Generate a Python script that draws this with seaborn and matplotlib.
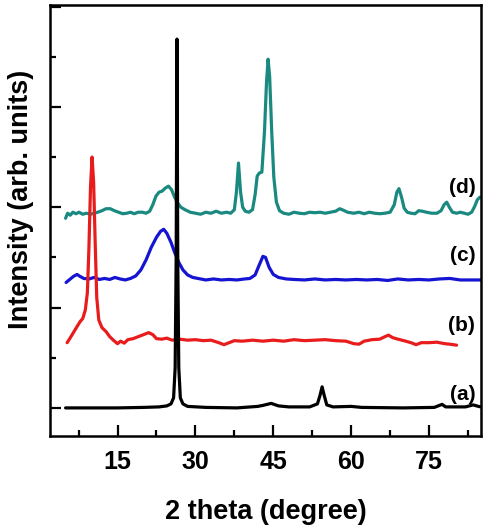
import numpy as np
import pandas as pd
import matplotlib
matplotlib.use("Agg")
import matplotlib.pyplot as plt
from matplotlib.ticker import MultipleLocator, FixedLocator
import seaborn as sns

# ---- data (2theta in degrees, offset intensity in arb. units) ----
a_x = [5.0, 10, 15, 20, 23, 24.5, 25.3, 25.8, 26.1, 26.3, 26.45, 26.6, 26.8, 27.1, 27.6, 28.5, 32, 38,
       42, 43, 44.6, 46, 48, 52, 53.5, 54.0, 54.4, 54.8, 55.3, 56.5, 60, 62, 70, 76, 77.5, 78.2, 82, 83.5, 84.5, 85]
a_y = [0.0, 0.0, 0.0, 0.01, 0.02, 0.04, 0.08, 0.2, 0.8, 3.0, 7.35, 3.0, 0.8, 0.2, 0.08, 0.03, 0.01, 0.0,
       0.03, 0.05, 0.09, 0.04, 0.02, 0.02, 0.08, 0.25, 0.42, 0.25, 0.06, 0.02, 0.03, 0.01, 0.0, 0.01, 0.07, 0.02, 0.02, 0.06, 0.03, 0.02]

b_x = [5.3, 5.8, 6.5, 7.2, 7.8, 8.3, 8.8, 9.2, 9.5, 9.8, 10.1, 10.4, 10.7, 11.0, 11.4, 12.0, 12.8, 13.5, 14.2, 15.0,
       15.6, 16.3, 17, 18, 19, 20, 21, 21.8, 22.5, 23.5, 24.5, 25.5, 27, 28.5, 30, 31.5, 33, 34.5, 35.5, 36.5,
       37.5, 39, 41, 43, 45, 47, 49, 51, 53, 55, 57, 59, 60.5, 61.5, 62.5, 64, 65.5, 66.5, 67.2, 68, 69, 70.5,
       71.5, 72.5, 73.5, 75, 76.5, 78, 79, 80.3]
b_y = [1.30, 1.38, 1.5, 1.62, 1.72, 1.78, 1.95, 2.3, 3.2, 4.4, 5.0, 4.5, 3.3, 2.2, 1.75, 1.6, 1.52, 1.42, 1.35, 1.28,
       1.33, 1.29, 1.36, 1.38, 1.42, 1.46, 1.5, 1.46, 1.38, 1.37, 1.39, 1.35, 1.37, 1.35, 1.36, 1.34, 1.35, 1.3, 1.26, 1.3,
       1.34, 1.33, 1.35, 1.33, 1.35, 1.33, 1.36, 1.34, 1.35, 1.36, 1.34, 1.33, 1.28, 1.27, 1.33, 1.36, 1.37, 1.42, 1.45, 1.4, 1.37, 1.33,
       1.3, 1.26, 1.3, 1.3, 1.31, 1.28, 1.27, 1.25]

c_x = [5.1, 5.8, 6.5, 7.2, 7.8, 8.5, 9.5, 10.5, 11.5, 12.5, 13.5, 14.5, 15.5, 16.5, 17.5, 18.5, 19.5, 20.5, 21.5, 22.5,
       23.3, 23.9, 24.5, 25.3, 26, 26.8, 27.6, 28.5, 29.5, 30.5, 32, 33.5, 35, 36.5, 38, 39.5, 40.5, 41.5, 42.3, 43.0,
       43.5, 44.2, 45, 46, 47.5, 49, 51, 53, 55, 57, 59, 61, 63, 65, 67, 69, 71, 73, 75, 77, 79, 81, 83, 85]
c_y = [2.5, 2.56, 2.62, 2.66, 2.62, 2.58, 2.57, 2.6, 2.56, 2.58, 2.56, 2.6, 2.57, 2.55, 2.58, 2.63, 2.75, 2.95, 3.2, 3.4,
       3.52, 3.56, 3.48, 3.3, 3.1, 2.9, 2.75, 2.65, 2.6, 2.58, 2.55, 2.57, 2.55, 2.56, 2.55, 2.57, 2.58, 2.65, 2.85, 3.02,
       3.0, 2.8, 2.66, 2.6, 2.57, 2.56, 2.55, 2.57, 2.55, 2.56, 2.55, 2.56, 2.55, 2.56, 2.54, 2.57, 2.55, 2.56, 2.55, 2.57, 2.58, 2.55, 2.55, 2.55]

d_x = [5.0, 5.4, 5.9, 6.4, 7, 7.6, 8.3, 9, 9.8, 10.5, 11.2, 12, 12.8, 13.6, 14.4, 15.2, 16, 16.8, 17.5, 18.2,
       19, 19.8, 20.5, 21.2, 21.8, 22.4, 23.0, 23.6, 24.2, 24.8, 25.4, 26, 26.6, 27.2, 28, 29, 30, 31, 32, 33,
       34, 35, 36, 36.8, 37.5, 37.9, 38.3, 38.7, 39.1, 39.6, 40.3, 41, 41.5, 41.9, 42.3, 42.8, 43.3, 43.7, 44.0, 44.3,
       44.7, 45.1, 45.6, 46.2, 47, 48, 49, 50, 51, 52, 53, 54, 55, 56, 57, 57.8, 58.5, 59.3, 60.5, 61.5,
       62.5, 63.5, 64.5, 65.5, 66.5, 67.5, 68.3, 68.8, 69.2, 69.7, 70.2, 70.8, 71.5, 72.3, 73, 73.7, 74.5, 75.5, 76.5, 77.3,
       77.9, 78.4, 78.9, 79.5, 80.3, 81, 81.8, 82.5, 83.2, 83.8, 84.3, 84.8]
d_y = [3.78, 3.88, 3.84, 3.9, 3.87, 3.9, 3.86, 3.88, 3.86, 3.88, 3.9, 3.93, 3.97, 3.97, 3.93, 3.9, 3.87, 3.88, 3.9, 3.87,
       3.9, 3.9, 3.88, 3.92, 4.05, 4.22, 4.3, 4.32, 4.38, 4.42, 4.35, 4.2, 4.08, 4.0, 3.95, 3.9, 3.88, 3.86, 3.9, 3.88,
       3.92, 3.88, 3.9, 3.88, 3.95, 4.3, 4.88, 4.3, 4.0, 3.92, 3.9, 3.95, 4.25, 4.62, 4.68, 4.7, 5.5, 6.5, 6.95, 6.6,
       5.5, 4.6, 4.1, 3.93, 3.88, 3.86, 3.9, 3.88, 3.87, 3.9, 3.89, 3.9, 3.88, 3.9, 3.92, 3.97, 3.94, 3.9, 3.88, 3.9,
       3.87, 3.9, 3.88, 3.87, 3.88, 3.9, 4.05, 4.3, 4.37, 4.2, 3.98, 3.9, 3.88, 3.87, 3.93, 3.92, 3.9, 3.88, 3.88, 3.93,
       4.05, 4.1, 4.0, 3.9, 3.88, 3.9, 3.88, 3.86, 3.9, 4.02, 4.15, 4.2]

labels = ["(a)", "(b)", "(c)", "(d)"]
label_y = [0.26, 1.65, 3.03, 4.4]
colors = ["#000000", "#E81C1C", "#1414D2", "#1A8A80"]
x_ticks = [15, 30, 45, 60, 75]

# ---- plotting ----
sns.set_style("ticks")
plt.rcParams["font.family"] = ["Liberation Sans", "DejaVu Sans"]
plt.rcParams["font.weight"] = "bold"
plt.rcParams["text.color"] = "black"
plt.rcParams["axes.labelcolor"] = "black"
plt.rcParams["axes.edgecolor"] = "black"
plt.rcParams["xtick.color"] = "black"
plt.rcParams["ytick.color"] = "black"

fig = plt.figure(figsize=(4.87, 5.31), dpi=100)
ax = fig.add_axes([50 / 487, 1 - 436 / 531, 431 / 487, 431 / 531])

series = [(d_x, d_y, colors[3]), (c_x, c_y, colors[2]), (b_x, b_y, colors[1]), (a_x, a_y, colors[0])]
for xs, ys, col in series:
    df = pd.DataFrame({"x": xs, "y": ys})
    sns.lineplot(data=df, x="x", y="y", ax=ax, color=col, lw=2.3, sort=False, estimator=None)

for lab, yy in zip(labels, label_y):
    ax.text(83.9, yy, lab, ha="right", va="center", fontsize=15, fontweight="bold", color="black")

ax.set_xlim(2, 85)
ax.set_ylim(-0.56, 8.03)
ax.xaxis.set_major_locator(FixedLocator(x_ticks))
ax.xaxis.set_minor_locator(FixedLocator([7.5, 22.5, 37.5, 52.5, 67.5, 82.5]))
ax.yaxis.set_major_locator(MultipleLocator(2))
ax.yaxis.set_minor_locator(FixedLocator([1, 3, 5, 7]))
ax.set_yticklabels([])
ax.tick_params(axis="both", which="major", direction="in", length=8, width=1.6, labelsize=18, pad=10,
               color="black", labelcolor="black")
ax.tick_params(axis="both", which="minor", direction="in", length=4, width=1.6, color="black")
ax.tick_params(axis="x", which="both", top=False)
ax.tick_params(axis="y", which="both", right=False)
for t in ax.get_xticklabels():
    t.set_fontweight("bold")
for s in ax.spines.values():
    s.set_linewidth(1.8)
    s.set_edgecolor("black")
    s.set_visible(True)

ax.set_xlabel("2 theta (degree)", fontsize=19.5, fontweight="bold", labelpad=18, color="black")
ax.set_ylabel("Intensity (arb. units)", fontsize=19.5, fontweight="bold", color="black")
ax.yaxis.set_label_coords(-0.038, 0.55)

fig.savefig("out.png", dpi=100)
